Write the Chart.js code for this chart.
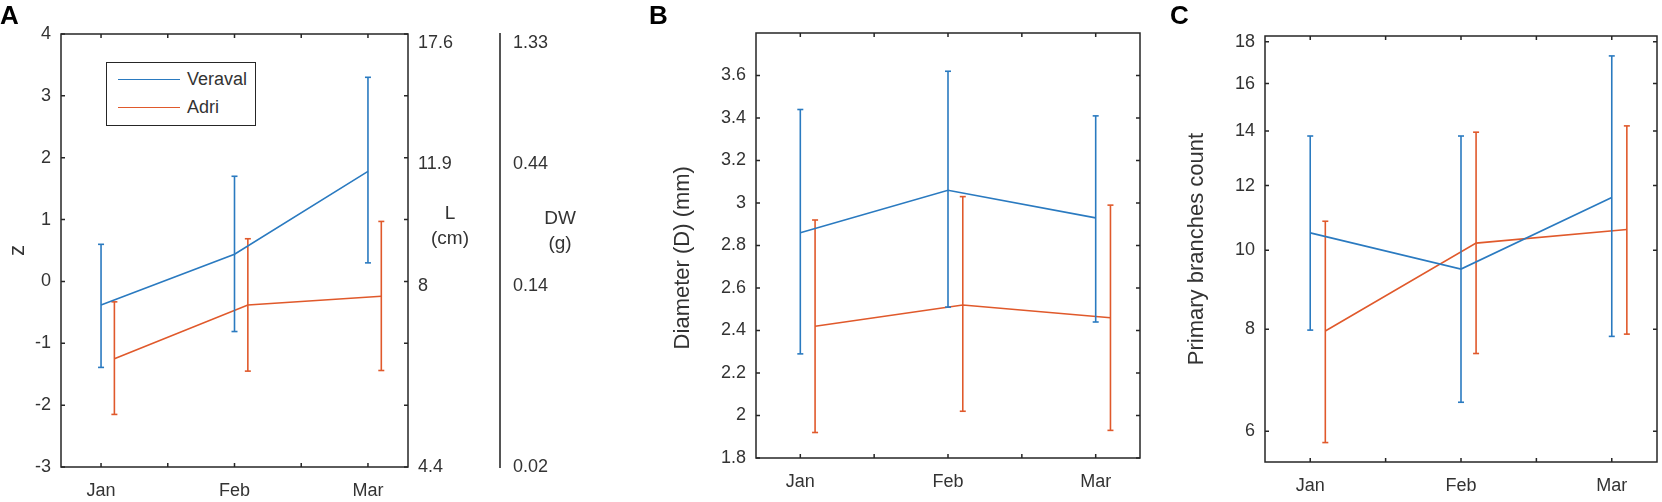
<!DOCTYPE html>
<html>
<head>
<meta charset="utf-8">
<script src="https://cdn.jsdelivr.net/npm/chart.js@4.4.1/dist/chart.umd.min.js"></script>
<style>
  body { margin: 0; background: #fff; }
  #wrap { position: relative; width: 1662px; height: 502px; overflow: hidden; background: #fff;
          font-family: 'Liberation Sans', Arial, sans-serif; color: #333; }
  canvas { position: absolute; top: 0; }
  .panel { position: absolute; top: 2px; font-size: 26px; font-weight: bold; line-height: 26px; color: #000; }
  .side { position: absolute; font-size: 19px; line-height: 25px; text-align: center; width: 70px; color: #333; }
  #legend { position: absolute; left: 106px; top: 62px; width: 148px; border: 1.5px solid #262626;
            background: #fff; padding: 2px 0 4px 0; }
  .row { display: flex; align-items: center; height: 28px; font-size: 18px; color: #333; }
  .swatch { width: 62px; height: 0; border-top: 1.6px solid; margin: 0 7px 0 11px; }
</style>
</head>
<body>
<div id="wrap">
  <canvas id="chartA" width="600" height="502" style="left:0"></canvas>
  <canvas id="chartB" width="545" height="502" style="left:600px"></canvas>
  <canvas id="chartC" width="512" height="502" style="left:1150px"></canvas>
  <div class="panel" style="left:0">A</div>
  <div class="panel" style="left:649px">B</div>
  <div class="panel" style="left:1170px">C</div>
  <div class="side" style="left:415px;top:200px">L<br>(cm)</div>
  <div class="side" style="left:525px;top:205px">DW<br>(g)</div>
  <div id="legend"></div>
</div>
<script>
const months = ['Jan', 'Feb', 'Mar'];
const seriesNames = ['Veraval', 'Adri'];
const seriesColors = ['#2a7ac0', '#e0592b'];

// panel A: standardized growth score (z)
const veravalZ = [-0.38, 0.44, 1.78];
const veravalZLow = [-1.39, -0.81, 0.30];
const veravalZHigh = [0.60, 1.70, 3.30];
const adriZ = [-1.25, -0.38, -0.24];
const adriZLow = [-2.15, -1.45, -1.44];
const adriZHigh = [-0.33, 0.69, 0.97];
const zTicks = [-3, -2, -1, 0, 1, 2, 3, 4];
const lTickZ = [-3, -0.08, 1.9, 3.86];
const lTickLabels = ['4.4', '8', '11.9', '17.6'];
const dwTickLabels = ['0.02', '0.14', '0.44', '1.33'];

// panel B: diameter (mm)
const veravalD = [2.86, 3.06, 2.93];
const veravalDLow = [2.29, 2.51, 2.44];
const veravalDHigh = [3.44, 3.62, 3.41];
const adriD = [2.42, 2.52, 2.46];
const adriDLow = [1.92, 2.02, 1.93];
const adriDHigh = [2.92, 3.03, 2.99];
const dTicks = [1.8, 2.0, 2.2, 2.4, 2.6, 2.8, 3.0, 3.2, 3.4, 3.6];

// panel C: primary branches count (log axis)
const veravalPB = [10.5, 9.48, 11.6];
const veravalPBLow = [7.98, 6.51, 7.84];
const veravalPBHigh = [13.8, 13.8, 17.3];
const adriPB = [7.96, 10.2, 10.6];
const adriPBLow = [5.81, 7.47, 7.89];
const adriPBHigh = [10.85, 13.95, 14.2];
const pbTicks = [6, 8, 10, 12, 14, 16, 18];

const xTickPos = [1, 1.5, 2, 2.5, 3];
const ADRI_SHIFT = 0.1;
const FONT = "'Liberation Sans', Arial, sans-serif";
const TEXT = '#333';
const AXIS = '#262626';

Chart.defaults.font.family = FONT;
Chart.defaults.color = TEXT;

// legend
document.getElementById('legend').innerHTML = seriesNames.map((n, i) =>
  '<div class="row"><span class="swatch" style="border-color:' + seriesColors[i] + '"></span>' + n + '</div>'
).join('');

// line through the means plus one small two-point dataset per error bar
function seriesSets(mean, low, high, i, shift) {
  const color = seriesColors[i];
  const sets = [{
    label: seriesNames[i],
    data: mean.map((v, k) => ({ x: k + 1 + shift, y: v })),
    borderColor: color, borderWidth: 1.6, pointRadius: 0, fill: false
  }];
  mean.forEach((v, k) => {
    sets.push({
      data: [{ x: k + 1 + shift, y: low[k] }, { x: k + 1 + shift, y: high[k] }],
      borderColor: color, borderWidth: 1.6,
      pointStyle: 'line', pointRadius: 3, pointHoverRadius: 3,
      pointBorderColor: color, pointBorderWidth: 1.6
    });
  });
  return sets;
}

// box round the plot area with inward ticks on all four sides
const framePlugin = {
  id: 'frame',
  afterDatasetsDraw(chart) {
    const { ctx, chartArea: a, scales } = chart;
    const T = 4;
    ctx.save();
    ctx.strokeStyle = AXIS;
    ctx.lineWidth = 1.5;
    ctx.strokeRect(a.left, a.top, a.right - a.left, a.bottom - a.top);
    ctx.beginPath();
    scales.x.ticks.forEach(t => {
      const px = scales.x.getPixelForValue(t.value);
      ctx.moveTo(px, a.bottom); ctx.lineTo(px, a.bottom - T);
      ctx.moveTo(px, a.top); ctx.lineTo(px, a.top + T);
    });
    scales.y.ticks.forEach(t => {
      const py = scales.y.getPixelForValue(t.value);
      ctx.moveTo(a.left, py); ctx.lineTo(a.left + T, py);
      ctx.moveTo(a.right, py); ctx.lineTo(a.right - T, py);
    });
    ctx.stroke();
    ctx.restore();
  }
};

function monthAxis(h) {
  return {
    type: 'linear', min: 0.7, max: 3.3,
    grid: { display: false, drawTicks: false }, border: { display: false },
    afterBuildTicks: s => { s.ticks = xTickPos.map(v => ({ value: v })); },
    afterFit: s => { s.height = h; },
    ticks: {
      autoSkip: false, maxRotation: 0, padding: 13, color: TEXT, font: { size: 18 },
      callback: v => Number.isInteger(v) ? months[v - 1] : ''
    }
  };
}

function leftAxis(o) {
  return {
    type: o.type || 'linear', position: 'left', min: o.min, max: o.max,
    grid: { display: false, drawTicks: false }, border: { display: false },
    afterBuildTicks: s => { s.ticks = o.ticks.map(v => ({ value: v })); },
    afterFit: s => { s.width = o.width; },
    ticks: { autoSkip: false, padding: 10, color: TEXT, font: { size: 18 }, callback: o.fmt },
    title: { display: true, text: o.title, color: TEXT, font: { size: 22 }, padding: { top: o.titlePad, bottom: 0 } }
  };
}

function baseOptions(top, right, scales) {
  return {
    responsive: false, animation: false, events: [],
    layout: { padding: { top: top, right: right, bottom: 0, left: 0 } },
    plugins: { legend: { display: false }, tooltip: { enabled: false } },
    scales: scales
  };
}

// panel A
new Chart(document.getElementById('chartA'), {
  type: 'line',
  data: { datasets: [...seriesSets(veravalZ, veravalZLow, veravalZHigh, 0, 0),
                     ...seriesSets(adriZ, adriZLow, adriZHigh, 1, ADRI_SHIFT)] },
  options: baseOptions(34, 0, {
    x: monthAxis(35),
    y: leftAxis({ min: -3, max: 4, ticks: zTicks, width: 61, title: 'z', titlePad: 5, fmt: v => String(v) }),
    yL: {
      type: 'linear', position: 'right', weight: 0, min: -3, max: 4,
      grid: { display: false, drawTicks: false }, border: { display: false },
      afterBuildTicks: s => { s.ticks = lTickZ.map(v => ({ value: v })); },
      afterFit: s => { s.width = 92; },
      ticks: { autoSkip: false, padding: 10, color: TEXT, font: { size: 18 }, callback: (v, i) => lTickLabels[i] }
    },
    yDW: {
      type: 'linear', position: 'right', weight: 1, min: -3, max: 4,
      grid: { display: false, drawTicks: false }, border: { display: true, color: '#555', width: 2 },
      afterBuildTicks: s => { s.ticks = lTickZ.map(v => ({ value: v })); },
      afterFit: s => { s.width = 100; },
      ticks: { autoSkip: false, padding: 13, color: TEXT, font: { size: 18 }, callback: (v, i) => dwTickLabels[i] }
    }
  }),
  plugins: [framePlugin]
});

// panel B
new Chart(document.getElementById('chartB'), {
  type: 'line',
  data: { datasets: [...seriesSets(veravalD, veravalDLow, veravalDHigh, 0, 0),
                     ...seriesSets(adriD, adriDLow, adriDHigh, 1, ADRI_SHIFT)] },
  options: baseOptions(33, 5, {
    x: monthAxis(44),
    y: leftAxis({ min: 1.8, max: 3.8, ticks: dTicks, width: 156, title: 'Diameter (D) (mm)    ', titlePad: 70,
                  fmt: v => String(Number(v.toFixed(1))) })
  }),
  plugins: [framePlugin]
});

// panel C
new Chart(document.getElementById('chartC'), {
  type: 'line',
  data: { datasets: [...seriesSets(veravalPB, veravalPBLow, veravalPBHigh, 0, 0),
                     ...seriesSets(adriPB, adriPBLow, adriPBHigh, 1, ADRI_SHIFT)] },
  options: baseOptions(36, 5, {
    x: monthAxis(40),
    y: leftAxis({ type: 'logarithmic', min: 5.5, max: 18.3, ticks: pbTicks, width: 115, title: 'Primary branches count',
                  titlePad: 34, fmt: v => String(v) })
  }),
  plugins: [framePlugin]
});
</script>
</body>
</html>
